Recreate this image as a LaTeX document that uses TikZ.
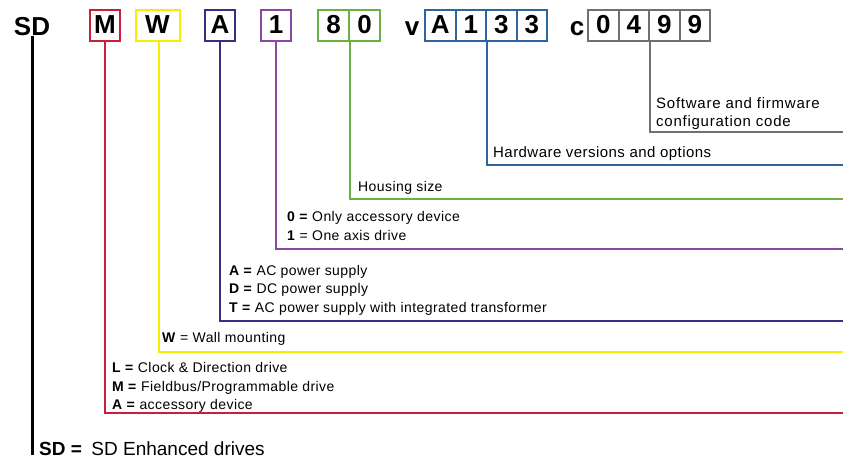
\documentclass[tikz,border=0pt]{standalone}
\usepackage{fontspec}
\setmainfont{Liberation Sans}
\newfontfamily\descfont[LetterSpace=3]{Liberation Sans}
\newfontfamily\swfont[LetterSpace=5]{Liberation Sans}
\definecolor{cRed}{RGB}{200,32,56}
\definecolor{cYel}{RGB}{245,238,0}
\definecolor{cNavy}{RGB}{58,46,132}
\definecolor{cPur}{RGB}{140,72,156}
\definecolor{cGrn}{RGB}{106,176,67}
\definecolor{cBlu}{RGB}{46,100,160}
\definecolor{cGry}{RGB}{112,112,112}
\begin{document}
\begin{tikzpicture}[x=1pt,y=-1pt,
  toplbl/.style={font=\fontsize{26}{26}\selectfont\bfseries, inner sep=0, anchor=base},
  cell/.style={draw=#1, line width=2pt, minimum height=31pt, minimum width=30.5pt, inner sep=0,
    font=\fontsize{26}{26}\selectfont\bfseries},
  desc/.style={font=\descfont\fontsize{14}{14}\selectfont, anchor=base west, inner sep=0},
  swdesc/.style={font=\swfont\fontsize{15}{15}\selectfont, anchor=base west, inner sep=0},
  conn/.style={line width=2.5pt, draw=#1}]
\useasboundingbox (0,0) rectangle (849,458);

% top code
\node[toplbl] (sd) at (32,35) {SD};
\node[cell=cRed] (m) at (105,25) {M};
\node[cell=cYel, minimum width=44pt] (w) at (157.5,25) {W};
\node[cell=cNavy] (a) at (220,25) {A};
\node[cell=cPur] (one) at (276,25) {1};
\node[cell=cGrn, minimum width=31pt] (h8) at (333.5,25) {8};
\node[cell=cGrn, minimum width=31pt] (h0) at (364.5,25) {0};
\node[toplbl] (v) at (412,35) {v};
\node[cell=cBlu] (vA) at (440.25,25) {A};
\node[cell=cBlu] (v1) at (470.75,25) {1};
\node[cell=cBlu] (v3) at (501.25,25) {3};
\node[cell=cBlu] (v3b) at (531.75,25) {3};
\node[toplbl] (c) at (577,35) {c};
\node[cell=cGry] (c0) at (603.25,25) {0};
\node[cell=cGry] (c4) at (633.75,25) {4};
\node[cell=cGry] (c9) at (664.25,25) {9};
\node[cell=cGry] (c9b) at (694.75,25) {9};

% descriptions
\node[swdesc] (sw1) at (656,108) {Software and firmware};
\node[swdesc] (sw2) at (656,126) {configuration code};
\node[desc, font=\descfont\fontsize{15}{15}\selectfont] (hw) at (493,157) {Hardware versions and options};
\node[desc] (hs) at (358,191) {Housing size};
\node[desc] (p0) at (287,221) {\textbf{0 =} Only accessory device};
\node[desc] (p1) at (287,240) {\textbf{1} = One axis drive};
\node[desc] (nA) at (229,275) {\textbf{A =} AC power supply};
\node[desc] (nD) at (229,293) {\textbf{D =} DC power supply};
\node[desc] (nT) at (229,312) {\textbf{T =} AC power supply with integrated transformer};
\node[desc] (yW) at (162,342) {\textbf{W} = Wall mounting};
\node[desc] (rL) at (112,372) {\textbf{L =} Clock \& Direction drive};
\node[desc] (rM) at (112,391) {\textbf{M =} Fieldbus/Programmable drive};
\node[desc] (rA) at (112,409) {\textbf{A =} accessory device};
\node[desc, font=\fontsize{19}{19}\selectfont] (sdb) at (39,455) {\textbf{SD =}\hspace{0.5em}SD Enhanced drives};

% connector ends
\coordinate (eG) at (843,132);
\coordinate (eB) at (843,165);
\coordinate (eGr) at (843,199);
\coordinate (eP) at (843,249);
\coordinate (eN) at (843,321);
\coordinate (eY) at (843,352);
\coordinate (eR) at (843,413);
\coordinate (eK) at (32,455);

% connectors
\draw[conn=cGry] (c4.south east) |- (eG);
\draw[conn=cBlu] (v1.south east) |- (eB);
\draw[conn=cGrn] (h8.south east) |- (eGr);
\draw[conn=cPur] (one.south) |- (eP);
\draw[conn=cNavy] (a.south) |- (eN);
\draw[conn=cYel] (w.south) ++(1.5,0) |- (eY);
\draw[conn=cRed] (m.south) |- (eR);
\draw[line width=3pt, black] (sd.south) ++(0,1) -- (eK);
\end{tikzpicture}
\end{document}
